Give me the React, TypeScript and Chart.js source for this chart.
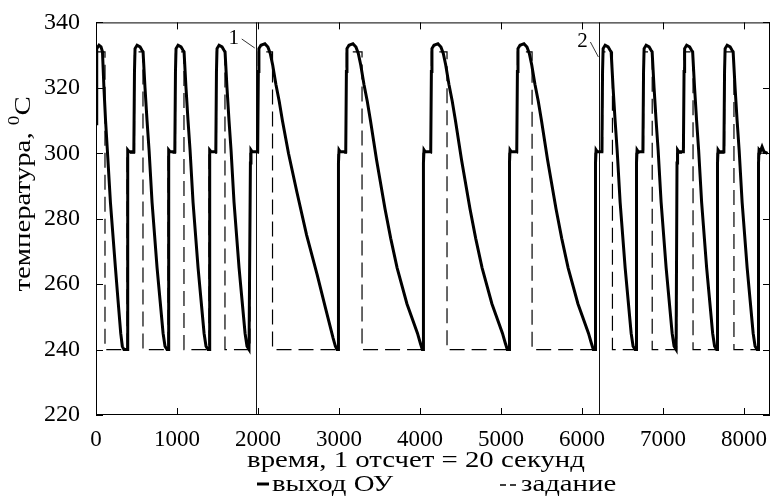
import React, { useEffect, useRef } from "react";
import { Chart, registerables } from "chart.js";
Chart.register(...registerables);

// axis ticks
const xTicks = [0, 1000, 2000, 3000, 4000, 5000, 6000, 7000, 8000];
const yTicks = [220, 240, 260, 280, 300, 320, 340];
const xMax = 8320;

// output of the controlled object (t, value)
const outputFast1: number[][] = [
  [0, 309], [6, 325], [12, 332], [37, 333], [62, 332.5], [80, 331], [98, 320], [118, 310], [140, 301], [178, 285], [240, 265], [272, 255], [305, 245], [325, 241], [345, 240],
  [383, 240], [388, 297], [395, 301], [408, 300.5], [467, 300.5], [475, 325], [482, 332], [507, 333], [544, 332.5], [568, 331.5], [581, 331], [605, 320], [630, 310], [655, 301], [692, 285], [754, 265], [791, 255], [828, 245], [852, 241], [877, 240],
  [889, 240], [894, 297], [901, 301], [914, 300.5], [973, 300.5], [981, 325], [988, 332], [1013, 333], [1050, 332.5], [1074, 331.5], [1087, 331], [1111, 320], [1136, 310], [1161, 301], [1198, 285], [1260, 265], [1297, 255], [1334, 245], [1358, 241], [1383, 240],
  [1395, 240], [1400, 297], [1407, 301], [1420, 300.5], [1479, 300.5], [1487, 325], [1494, 332], [1519, 333], [1556, 332.5], [1580, 331.5], [1593, 331], [1617, 320], [1642, 310], [1667, 301], [1704, 285], [1766, 265], [1803, 255], [1840, 245], [1864, 241], [1889, 240],
];
const outputSlow: number[][] = [
  [1901, 240], [1906, 297], [1913, 301], [1926, 300.5], [1996, 300.5], [2004, 325], [2011, 332], [2036, 333], [2085, 333.5], [2122, 332.5], [2151, 330.5], [2181, 327], [2221, 321], [2261, 316], [2301, 310], [2376, 300], [2481, 288], [2600, 275], [2729, 263], [2830, 253], [2927, 243.5], [2955, 241], [2976, 240],
  [2988, 240], [2993, 297], [3000, 301], [3013, 300.5], [3083, 300.5], [3091, 325], [3098, 332], [3123, 333], [3172, 333.5], [3209, 332.5], [3238, 330.5], [3268, 327], [3308, 321], [3348, 316], [3388, 310], [3463, 298], [3568, 283], [3638, 274], [3717, 265], [3838, 254], [3968, 245], [4003, 242], [4028, 240],
  [4037, 240], [4042, 297], [4049, 301], [4062, 300.5], [4132, 300.5], [4140, 325], [4147, 332], [4172, 333], [4221, 333.5], [4258, 332.5], [4287, 330.5], [4317, 327], [4357, 321], [4397, 316], [4437, 310], [4512, 298], [4617, 283], [4687, 274], [4766, 265], [4887, 254], [5017, 245], [5052, 242], [5077, 240],
  [5099, 240], [5104, 297], [5111, 301], [5124, 300.5], [5194, 300.5], [5202, 325], [5209, 332], [5234, 333], [5283, 333.5], [5320, 332.5], [5349, 330.5], [5379, 327], [5419, 321], [5459, 316], [5499, 310], [5574, 298], [5679, 283], [5749, 274], [5828, 265], [5949, 254], [6079, 245], [6114, 242], [6139, 240],
];
const outputFast2: number[][] = [
  [6161, 240], [6166, 297], [6173, 301], [6186, 300.5], [6245, 300.5], [6253, 325], [6260, 332], [6285, 333], [6322, 332.5], [6346, 331.5], [6359, 331], [6383, 320], [6408, 310], [6433, 301], [6470, 285], [6532, 265], [6569, 255], [6606, 245], [6630, 241], [6655, 240],
  [6667, 240], [6672, 297], [6679, 301], [6692, 300.5], [6751, 300.5], [6759, 325], [6766, 332], [6791, 333], [6828, 332.5], [6852, 331.5], [6865, 331], [6889, 320], [6914, 310], [6939, 301], [6976, 285], [7038, 265], [7075, 255], [7112, 245], [7136, 241], [7161, 240],
  [7167, 240], [7172, 297], [7179, 301], [7192, 300.5], [7251, 300.5], [7259, 325], [7266, 332], [7291, 333], [7328, 332.5], [7352, 331.5], [7365, 331], [7389, 320], [7414, 310], [7439, 301], [7476, 285], [7538, 265], [7575, 255], [7612, 245], [7636, 241], [7661, 240],
  [7667, 240], [7672, 297], [7679, 301], [7692, 300.5], [7751, 300.5], [7759, 325], [7766, 332], [7791, 333], [7828, 332.5], [7852, 331.5], [7865, 331], [7889, 320], [7914, 310], [7939, 301], [7976, 285], [8038, 265], [8075, 255], [8112, 245], [8136, 241], [8161, 240],
  [8173, 240], [8178, 297], [8185, 301], [8200, 300.5], [8222, 302], [8245, 300.5], [8290, 300],
];

// setpoint (step function): change times and levels
const setpointT = [0, 111, 383, 475, 580, 889, 981, 1086, 1395, 1487, 1592, 1901, 2004, 2179, 2988, 3091, 3284, 4037, 4140, 4333, 5099, 5202, 5383, 6161, 6253, 6375, 6667, 6759, 6866, 7167, 7259, 7370, 7667, 7759, 7875, 8173, 8290];
const setpointV = [331, 240, 300, 331, 240, 300, 331, 240, 300, 331, 240, 300, 331, 240, 300, 331, 240, 300, 331, 240, 300, 331, 240, 300, 331, 240, 300, 331, 240, 300, 331, 240, 300, 331, 240, 300, 300];

// regime switch markers
const markerT = [1972, 6214];
const markerLabels = ["1", "2"];

const FONT = "'Liberation Serif', 'Times New Roman', serif";
const TEXT_STRETCH = 1.2;

function stretchedText(ctx: any, text: string, x: number, y: number, size: number, align: "left" | "center") {
  ctx.save();
  ctx.font = `${size}px ${FONT}`;
  ctx.textBaseline = "middle";
  ctx.textAlign = "left";
  const w = ctx.measureText(text).width * TEXT_STRETCH;
  const x0 = align === "center" ? x - w / 2 : x;
  ctx.translate(x0, y);
  ctx.scale(TEXT_STRETCH, 1);
  ctx.fillText(text, 0, 0);
  ctx.restore();
  return w;
}

const decorPlugin = {
  id: "decor",
  beforeDatasetsDraw(chart: any) {
    const { ctx, chartArea, scales } = chart;
    ctx.save();
    ctx.strokeStyle = "#111";
    ctx.lineWidth = 1;
    markerT.forEach((t) => {
      const px = Math.round(scales.x.getPixelForValue(t)) + 0.5;
      ctx.beginPath();
      ctx.moveTo(px, chartArea.top);
      ctx.lineTo(px, chartArea.bottom);
      ctx.stroke();
    });
    ctx.restore();
  },
  afterDraw(chart: any) {
    const { ctx, chartArea, scales } = chart;
    const { left, right, top, bottom } = chartArea;
    ctx.save();
    ctx.strokeStyle = "#000";
    ctx.fillStyle = "#000";
    ctx.lineWidth = 1;
    ctx.strokeRect(left + 0.5, top + 0.5, right - left - 1, bottom - top - 1);
    const tl = 7;
    ctx.beginPath();
    xTicks.forEach((v) => {
      const px = Math.round(scales.x.getPixelForValue(v)) + 0.5;
      ctx.moveTo(px, bottom);
      ctx.lineTo(px, bottom - tl);
      ctx.moveTo(px, top);
      ctx.lineTo(px, top + tl);
    });
    yTicks.forEach((v) => {
      const py = Math.round(scales.y.getPixelForValue(v)) + 0.5;
      ctx.moveTo(left, py);
      ctx.lineTo(left + tl, py);
      ctx.moveTo(right, py);
      ctx.lineTo(right - tl, py);
    });
    ctx.stroke();

    // marker labels with leader lines
    ctx.font = `21px ${FONT}`;
    ctx.textAlign = "center";
    ctx.textBaseline = "middle";
    markerT.forEach((t, i) => {
      const px = scales.x.getPixelForValue(t);
      const dx = i === 0 ? 22 : 17;
      const ly = i === 0 ? 38 : 41;
      ctx.fillText(markerLabels[i], px - dx, ly);
      ctx.beginPath();
      ctx.lineWidth = 0.8;
      ctx.moveTo(px - dx + 8, ly + 1);
      ctx.lineTo(px - 1, ly + (i === 0 ? 10 : 16));
      ctx.stroke();
    });

    // y title with superscript
    ctx.save();
    ctx.translate(24, 194);
    ctx.rotate(-Math.PI / 2);
    const main = "температура, ";
    const size = 24;
    ctx.font = `${size}px ${FONT}`;
    const w1 = ctx.measureText(main).width * TEXT_STRETCH;
    const w3 = ctx.measureText("C").width * TEXT_STRETCH;
    ctx.font = `16px ${FONT}`;
    const w2 = ctx.measureText("0").width * TEXT_STRETCH;
    const total = w1 + w2 + w3;
    const x0 = -total / 2;
    stretchedText(ctx, main, x0, 0, size, "left");
    ctx.save();
    ctx.translate(x0 + w1, -9);
    ctx.scale(TEXT_STRETCH, 1);
    ctx.font = `16px ${FONT}`;
    ctx.textAlign = "left";
    ctx.textBaseline = "middle";
    ctx.fillText("0", 0, 0);
    ctx.restore();
    stretchedText(ctx, "C", x0 + w1 + w2, 0, size, "left");
    ctx.restore();

    // x title
    stretchedText(ctx, "время, 1 отсчет = 20 секунд", 416, 461, 24, "center");

    // legend
    ctx.lineWidth = 3;
    ctx.beginPath();
    ctx.moveTo(257, 484);
    ctx.lineTo(269, 484);
    ctx.stroke();
    stretchedText(ctx, "выход ОУ", 272, 485, 24, "left");
    ctx.lineWidth = 1.5;
    ctx.beginPath();
    ctx.moveTo(500, 485);
    ctx.lineTo(506, 485);
    ctx.moveTo(510, 485);
    ctx.lineTo(516, 485);
    ctx.stroke();
    stretchedText(ctx, "задание", 521, 485, 24, "left");
    ctx.restore();
  },
};

export default function App() {
  const ref = useRef<HTMLCanvasElement>(null);
  useEffect(() => {
    document.body.style.margin = "0";
    const output = [...outputFast1, ...outputSlow, ...outputFast2].map(([x, y]) => ({ x, y }));
    const setpoint = setpointT.map((x, i) => ({ x, y: setpointV[i] }));
    const chart = new Chart(ref.current!, {
      type: "scatter",
      data: {
        datasets: [
          {
            label: "выход ОУ",
            data: output,
            showLine: true,
            borderColor: "#000",
            borderWidth: 3,
            pointRadius: 0,
            tension: 0,
            order: 0,
          },
          {
            label: "задание",
            data: setpoint,
            showLine: true,
            stepped: true,
            borderColor: "#000",
            borderWidth: 1.2,
            borderDash: [15, 7],
            pointRadius: 0,
            order: 1,
          },
        ],
      },
      options: {
        animation: false,
        responsive: false,
        layout: { padding: { left: 0, right: 1, top: 21, bottom: 0 } },
        plugins: { legend: { display: false }, tooltip: { enabled: false } },
        scales: {
          x: {
            type: "linear",
            min: 0,
            max: xMax,
            grid: { display: false },
            border: { display: false },
            afterFit: (s: any) => { s.height = 82; },
            afterBuildTicks: (s: any) => { s.ticks = xTicks.map((v) => ({ value: v })); },
            ticks: {
              color: "#000",
              padding: 3,
              maxRotation: 0,
              font: { family: FONT, size: 23 },
              callback: (v: any) => String(v),
            },
          },
          y: {
            type: "linear",
            min: 220,
            max: 340,
            grid: { display: false },
            border: { display: false },
            afterFit: (s: any) => { s.width = 96; },
            afterBuildTicks: (s: any) => { s.ticks = yTicks.map((v) => ({ value: v })); },
            ticks: {
              color: "#000",
              padding: 8,
              font: { family: FONT, size: 24 },
              callback: (v: any) => String(v),
            },
          },
        },
      },
      plugins: [decorPlugin],
    });
    return () => chart.destroy();
  }, []);
  return (
    <div style={{ width: 771, height: 497 }}>
      <canvas ref={ref} width={771} height={497} />
    </div>
  );
}
